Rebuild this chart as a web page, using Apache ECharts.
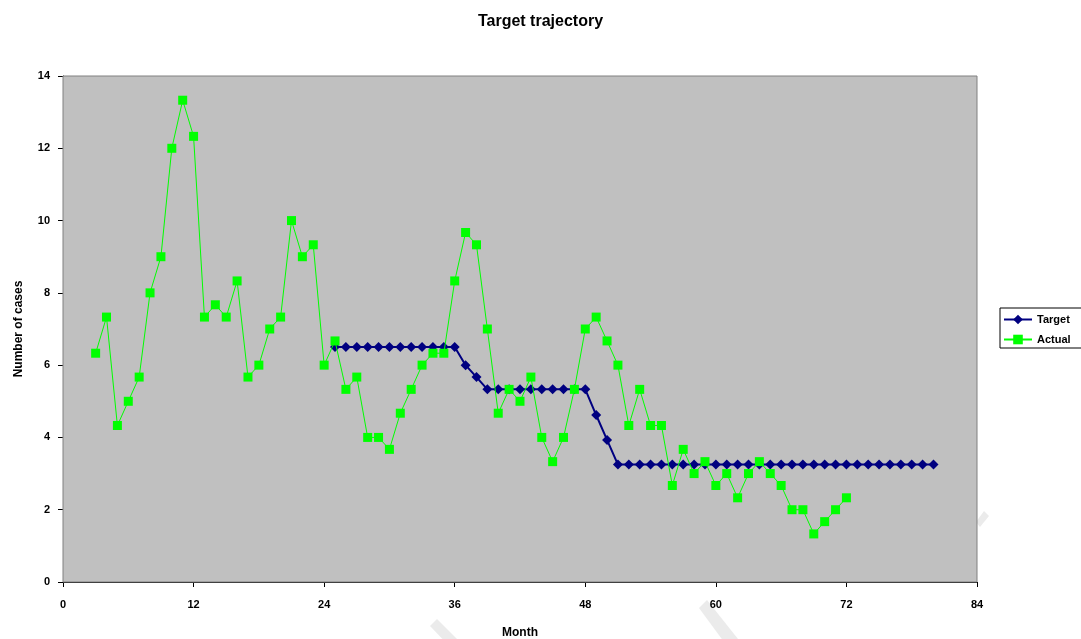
<!DOCTYPE html>
<html>
<head>
<meta charset="utf-8">
<title>Target trajectory</title>
<script src="https://cdn.jsdelivr.net/npm/echarts@6/dist/echarts.min.js"></script>
<style>
  html, body { margin: 0; padding: 0; background: #ffffff; }
  #chart { width: 1081px; height: 639px; }
</style>
</head>
<body>
<div id="chart"></div>
<script>
// Monthly case counts (3-month averages) and the planned target path
var actualFirstMonth = 3;
var actualValues = [
  6.33, 7.33, 4.33, 5.00, 5.67, 8.00, 9.00, 12.00, 13.33, 12.33,
  7.33, 7.67, 7.33, 8.33, 5.67, 6.00, 7.00, 7.33, 10.00, 9.00,
  9.33, 6.00, 6.67, 5.33, 5.67, 4.00, 4.00, 3.67, 4.67, 5.33,
  6.00, 6.33, 6.33, 8.33, 9.67, 9.33, 7.00, 4.67, 5.33, 5.00,
  5.67, 4.00, 3.33, 4.00, 5.33, 7.00, 7.33, 6.67, 6.00, 4.33,
  5.33, 4.33, 4.33, 2.67, 3.67, 3.00, 3.33, 2.67, 3.00, 2.33,
  3.00, 3.33, 3.00, 2.67, 2.00, 2.00, 1.33, 1.67, 2.00, 2.33
];

var targetFirstMonth = 25;
var targetValues = [
  6.5, 6.5, 6.5, 6.5, 6.5, 6.5, 6.5, 6.5, 6.5, 6.5, 6.5, 6.5,
  6.0, 5.67,
  5.33, 5.33, 5.33, 5.33, 5.33, 5.33, 5.33, 5.33, 5.33, 5.33,
  4.62, 3.93,
  3.25, 3.25, 3.25, 3.25, 3.25, 3.25, 3.25, 3.25, 3.25, 3.25,
  3.25, 3.25, 3.25, 3.25, 3.25, 3.25, 3.25, 3.25, 3.25, 3.25,
  3.25, 3.25, 3.25, 3.25, 3.25, 3.25, 3.25, 3.25, 3.25, 3.25
];

var monthTicks = [0, 12, 24, 36, 48, 60, 72, 84];
var caseTicks = [0, 2, 4, 6, 8, 10, 12, 14];

function toPoints(firstMonth, values) {
  return values.map(function (v, i) { return [firstMonth + i, v]; });
}

var FONT = 'Liberation Sans, Arial, sans-serif';
var chart = echarts.init(document.getElementById('chart'), null, { renderer: 'canvas' });

var labelStyle = { color: '#000', fontFamily: FONT, fontWeight: 'bold', fontSize: 11 };

chart.setOption({
  animation: false,
  backgroundColor: '#ffffff',
  title: {
    text: 'Target trajectory',
    left: 'center',
    top: 9,
    textStyle: { color: '#000', fontFamily: FONT, fontWeight: 'bold', fontSize: 16 }
  },
  graphic: [
    // faint diagonal background marks
    { type: 'polygon', z: -10, silent: true,
      shape: { points: [[430, 626], [437, 619], [460, 642], [452, 649]] },
      style: { fill: '#ebebeb' } },
    { type: 'polygon', z: -10, silent: true,
      shape: { points: [[699, 608], [707, 600], [738, 639], [727, 646]] },
      style: { fill: '#ebebeb' } },
    { type: 'polygon', z: -10, silent: true,
      shape: { points: [[976, 522], [984, 511], [989, 516], [980, 527]] },
      style: { fill: '#ebebeb' } }
  ],
  grid: {
    left: 63, right: 104, top: 76, bottom: 57,
    containLabel: false,
    outerBoundsMode: 'none',
    show: true,
    backgroundColor: '#c0c0c0',
    borderColor: '#808080',
    borderWidth: 1,
    z: 2
  },
  legend: {
    orient: 'vertical',
    left: 1000,
    top: 308,
    backgroundColor: '#ffffff',
    borderColor: '#000',
    borderWidth: 1,
    borderRadius: 0,
    padding: [6, 20, 3, 3],
    itemGap: 9,
    itemWidth: 28,
    itemHeight: 12,
    textStyle: { color: '#000', fontFamily: FONT, fontWeight: 'bold', fontSize: 11 },
    data: ['Target', 'Actual']
  },
  xAxis: {
    type: 'value',
    min: 0, max: 84, interval: 12,
    name: 'Month',
    nameLocation: 'middle',
    nameGap: 45,
    nameTextStyle: { color: '#000', fontFamily: FONT, fontWeight: 'bold', fontSize: 12 },
    axisLine: { show: true, onZero: false, lineStyle: { color: '#000', width: 1 } },
    axisTick: { show: true, inside: false, length: 5, lineStyle: { color: '#000' },
      customValues: monthTicks },
    axisLabel: Object.assign({ margin: 17, customValues: monthTicks }, labelStyle),
    splitLine: { show: false }
  },
  yAxis: {
    type: 'value',
    min: 0, max: 14, interval: 2,
    name: 'Number of cases',
    nameLocation: 'middle',
    nameGap: 38,
    nameRotate: 90,
    nameTextStyle: { color: '#000', fontFamily: FONT, fontWeight: 'bold', fontSize: 12 },
    axisLine: { show: true, onZero: false, lineStyle: { color: '#000', width: 1 } },
    axisTick: { show: true, inside: false, length: 5, lineStyle: { color: '#000' },
      customValues: caseTicks },
    axisLabel: Object.assign({ margin: 13, customValues: caseTicks }, labelStyle),
    splitLine: { show: false }
  },
  series: [
    {
      name: 'Target',
      type: 'line',
      z: 3,
      data: toPoints(targetFirstMonth, targetValues),
      symbol: 'diamond',
      symbolSize: 10,
      showAllSymbol: true,
      color: '#000080',
      lineStyle: { color: '#000080', width: 2 },
      itemStyle: { color: '#000080' }
    },
    {
      name: 'Actual',
      type: 'line',
      z: 4,
      data: toPoints(actualFirstMonth, actualValues),
      symbol: 'rect',
      symbolSize: 9,
      showAllSymbol: true,
      color: '#00ff00',
      lineStyle: { color: '#00ff00', width: 1 },
      itemStyle: { color: '#00ff00' }
    }
  ]
});
</script>
</body>
</html>
